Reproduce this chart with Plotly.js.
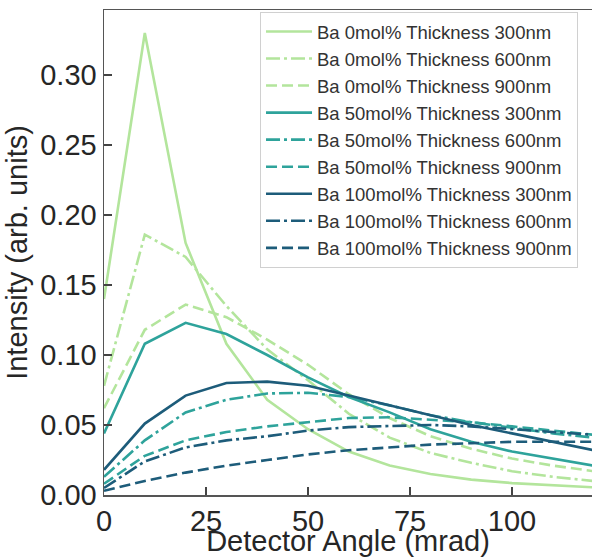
<!DOCTYPE html>
<html>
<head>
<meta charset="utf-8">
<script src="https://cdn.plot.ly/plotly-3.0.1.min.js"></script>
<style>html,body{margin:0;padding:0;background:#fff;}#chart{width:592px;height:557px;}</style>
</head>
<body>
<div id="chart"></div>
<script>
// Detector angle (mrad)
const angles = [0, 10, 20, 30, 40, 50, 60, 70, 80, 90, 100, 110, 120];

// Intensity (arb. units)
const ba0_300 = [0.140, 0.330, 0.180, 0.108, 0.068, 0.047, 0.031, 0.021, 0.015, 0.011, 0.0085, 0.007, 0.0055];
const ba0_600 = [0.078, 0.186, 0.170, 0.135, 0.104, 0.082, 0.058, 0.041, 0.030, 0.023, 0.017, 0.013, 0.010];
const ba0_900 = [0.062, 0.118, 0.136, 0.127, 0.111, 0.093, 0.072, 0.055, 0.042, 0.033, 0.026, 0.021, 0.017];
const ba50_300 = [0.044, 0.108, 0.123, 0.115, 0.100, 0.084, 0.070, 0.059, 0.047, 0.038, 0.031, 0.026, 0.021];
const ba50_600 = [0.013, 0.039, 0.059, 0.068, 0.0725, 0.073, 0.070, 0.064, 0.057, 0.052, 0.048, 0.044, 0.041];
const ba50_900 = [0.008, 0.028, 0.039, 0.045, 0.049, 0.052, 0.055, 0.0555, 0.054, 0.052, 0.049, 0.046, 0.043];
const ba100_300 = [0.018, 0.051, 0.071, 0.080, 0.081, 0.078, 0.071, 0.064, 0.057, 0.050, 0.044, 0.038, 0.032];
const ba100_600 = [0.005, 0.024, 0.034, 0.039, 0.042, 0.046, 0.0485, 0.0495, 0.050, 0.049, 0.047, 0.045, 0.043];
const ba100_900 = [0.003, 0.010, 0.016, 0.021, 0.025, 0.029, 0.032, 0.034, 0.036, 0.037, 0.038, 0.038, 0.038];

const seriesNames = [
  "Ba 0mol% Thickness 300nm", "Ba 0mol% Thickness 600nm", "Ba 0mol% Thickness 900nm",
  "Ba 50mol% Thickness 300nm", "Ba 50mol% Thickness 600nm", "Ba 50mol% Thickness 900nm",
  "Ba 100mol% Thickness 300nm", "Ba 100mol% Thickness 600nm", "Ba 100mol% Thickness 900nm"
];
const seriesValues = [ba0_300, ba0_600, ba0_900, ba50_300, ba50_600, ba50_900, ba100_300, ba100_600, ba100_900];

const colors = ["#b3e59c", "#b3e59c", "#b3e59c", "#2ea39b", "#2ea39b", "#2ea39b", "#1d5c7a", "#1d5c7a", "#1d5c7a"];
const dashes = ["solid", "14px,4px,3px,4px", "11px,5px"];

const traces = seriesValues.map((vals, i) => ({
  x: angles,
  y: vals,
  type: "scatter",
  mode: "lines",
  name: seriesNames[i],
  line: {color: colors[i], width: 2.6, dash: dashes[i % 3]}
}));

const tickFont = {family: "Liberation Sans, Arial, sans-serif", size: 29, color: "#262626"};
const layout = {
  width: 592,
  height: 557,
  margin: {l: 104, r: 0, t: 10, b: 62},
  paper_bgcolor: "#ffffff",
  plot_bgcolor: "#ffffff",
  showlegend: true,
  legend: {
    x: 0.3197, y: 0.996, xanchor: "left", yanchor: "top",
    bgcolor: "#ffffff", bordercolor: "#d0d0d0", borderwidth: 1,
    font: {family: "Liberation Sans, Arial, sans-serif", size: 18.5, color: "#333333"},
    itemwidth: 46
  },
  xaxis: {
    range: [0, 119.6],
    tickvals: [0, 25, 50, 75, 100],
    ticks: "inside", ticklen: 8, tickwidth: 1.5, tickcolor: "#444",
    showline: true, linecolor: "#555", linewidth: 1.5, mirror: true,
    showgrid: false, zeroline: false,
    tickfont: tickFont,
    title: {text: "Detector Angle (mrad)", font: tickFont, standoff: 5}
  },
  yaxis: {
    range: [0, 0.3464],
    tickvals: [0, 0.05, 0.10, 0.15, 0.20, 0.25, 0.30],
    tickformat: ".2f",
    ticks: "inside", ticklen: 8, tickwidth: 1.5, tickcolor: "#444",
    showline: true, linecolor: "#555", linewidth: 1.5, mirror: true,
    showgrid: false, zeroline: false,
    tickfont: tickFont,
    title: {text: "Intensity (arb. units)", font: tickFont, standoff: 4}
  }
};

Plotly.newPlot("chart", traces, layout, {displayModeBar: false, staticPlot: true});
</script>
</body>
</html>
